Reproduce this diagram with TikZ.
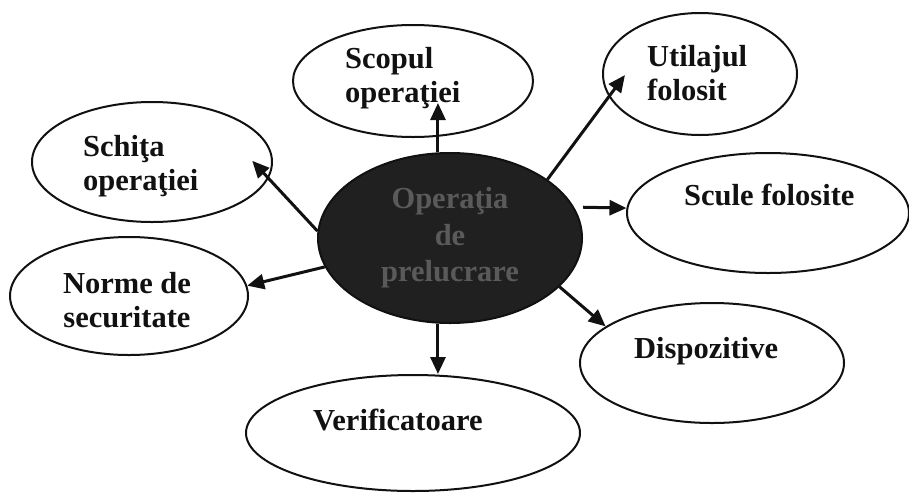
\documentclass[tikz,border=0pt]{standalone}
\usepackage{fontspec}
\setmainfont{Liberation Serif}
\usetikzlibrary{arrows.meta,shapes.geometric}
\definecolor{opInk}{HTML}{111111}
\definecolor{opCoreFill}{HTML}{202020}
\definecolor{opCoreText}{HTML}{5A5A5A}
\tikzset{
  opBubble/.style={
    ellipse,
    draw=opInk,
    line width=2pt,
    fill=white,
    inner sep=0pt
  },
  opCore/.style={
    opBubble,
    fill=opCoreFill,
    align=center,
    text=opCoreText,
    font=\fontsize{30.5}{36.5}\selectfont\bfseries
  },
  opText/.style={
    inner sep=0pt,
    text=opInk,
    font=\fontsize{30.5}{34}\selectfont\bfseries
  },
  opArrow/.style={
    -{Triangle[length=17pt,width=15pt]},
    line width=3pt,
    draw=opInk
  }
}

\begin{document}
\begin{tikzpicture}[x=1pt,y=-1pt]
\useasboundingbox (0,0) rectangle (909,493);

% Surrounding bubbles.
\node[opBubble, minimum width=240pt, minimum height=112pt] (scopul) at (413,81) {};
\node[opBubble, minimum width=194pt, minimum height=122pt] (utilaj) at (700,74) {};
\node[opBubble, minimum width=240pt, minimum height=120pt] (schita) at (152,162) {};
\node[opBubble, minimum width=238pt, minimum height=118pt] (norme) at (129,296) {};
\node[opBubble, minimum width=282pt, minimum height=120pt] (scule) at (768,213) {};
\node[opBubble, minimum width=264pt, minimum height=120pt] (dispoz) at (712,363) {};
\node[opBubble, minimum width=334pt, minimum height=116pt] (verif) at (413,433) {};

% Labels, set a little off centre as in the sketch (base = last line).
\node[opText, align=left, anchor=base west] (scopulT) at (345,102) {Scopul\\operaţiei};
\node[opText, align=left, anchor=base west] (utilajT) at (647,100) {Utilajul\\folosit};
\node[opText, align=left, anchor=base west] (schitaT) at (83,190) {Schiţa\\operaţiei};
\node[opText, align=center, anchor=base] (normeT) at (127,327) {Norme de\\securitate};
\node[opText, anchor=base west] (sculeT) at (684,205) {Scule folosite};
\node[opText, anchor=base west] (dispozT) at (634,358) {Dispozitive};
\node[opText, anchor=base west] (verifT) at (313,430) {Verificatoare};

% Central operation.
\node[opCore, minimum width=264pt, minimum height=170pt] (op) at (450,238)
  {Operaţia\\de\\prelucrare};

% Arrows out of the centre.
\draw[opArrow, shorten >=-35pt] (op.98) -- (op.98 |- scopul.south);
\draw[opArrow, shorten >=-27pt] (op.31) -- (utilaj.194);
\draw[opArrow, shorten <=9pt] (op.14) -- (scule.178);
\draw[opArrow] (op.336) -- (dispoz.161);
\draw[opArrow] (op.262) -- (op.262 |- verif.north);
\draw[opArrow] (op.193) -- (norme.5);
\draw[opArrow, shorten >=-24pt] (op.177) -- (schita.352);

\end{tikzpicture}
\end{document}
